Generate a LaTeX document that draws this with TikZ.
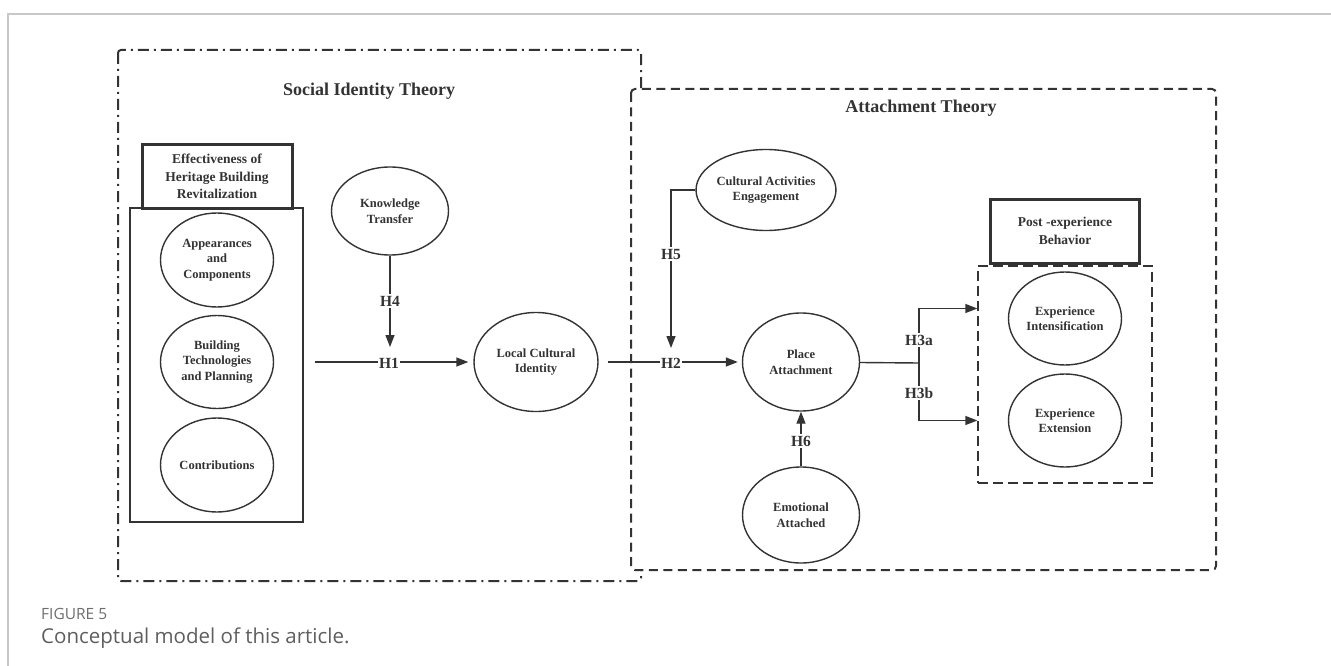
\documentclass[tikz,border=0pt]{standalone}
\usepackage{fontspec}
\setmainfont{Liberation Serif}
\newfontfamily\capfont{Open Sans}
\usepackage{tikz}
\usetikzlibrary{positioning,shapes.geometric,arrows.meta}
\definecolor{ink}{HTML}{333333}
\definecolor{capgray}{HTML}{5E5E5E}
\definecolor{framegray}{HTML}{C8C8C8}

\begin{document}
\begin{tikzpicture}[x=1pt, y=-1pt,
        every node/.style={text=ink, align=center},
        construct/.style={ellipse, draw=ink, line width=1.4pt, inner sep=0pt, font=\bfseries\fontsize{12.5}{15.5}\selectfont},
        header/.style={rectangle, draw=ink, line width=3pt, inner sep=2pt, font=\bfseries\fontsize{13.5}{17.5}\selectfont},
        theory/.style={font=\bfseries\fontsize{18}{20}\selectfont},
        hyp/.style={fill=white, inner sep=1.5pt, font=\bfseries\fontsize{15.5}{17}\selectfont},
        arr/.style={draw=ink, line width=1.4pt, -{Triangle[length=12pt,width=9pt]}}]
        \useasboundingbox (0,0) rectangle (1331,666);
        \draw[framegray, line width=1.5pt] (8,666) -- (8,14) -- (1331,14);
        % theory frames
        \draw[ink, line width=2pt, rounded corners=3pt, dash pattern=on 11pt off 5pt on 2pt off 5pt] (118,50) rectangle (641,581);
        \draw[ink, line width=2pt, rounded corners=4pt, dash pattern=on 9pt off 5.5pt, fill=white] (631,89) rectangle (1216,570);
        \node[theory] (sit) at (369,91) {Social Identity Theory};
        \node[theory] (att) at (921,108) {Attachment Theory};
        % heritage revitalization
        \node[header, minimum width=150pt, minimum height=63pt] (ehbr) at (217,176.5) {Effectiveness of\\Heritage Building\\Revitalization};
        \node[rectangle, draw=ink, line width=1.4pt, minimum width=173pt, minimum height=314pt] (dims) at (216.5,365) {};
        \node[construct, minimum width=113pt, minimum height=94pt] (ac) at (217,260) {Appearances\\and\\Components};
        \node[construct, minimum width=113pt, minimum height=93pt] (btp) at (217,362) {Building\\Technologies\\and Planning};
        \node[construct, minimum width=113pt, minimum height=94pt] (con) at (217,465) {Contributions};
        \node[construct, minimum width=117pt, minimum height=88pt] (kt) at (390,211) {Knowledge\\Transfer};
        \node[construct, minimum width=124pt, minimum height=99pt] (lci) at (536,362) {Local Cultural\\Identity};
        % attachment side
        \node[construct, minimum width=133pt, minimum height=81pt] (cae) at (766,190) {Cultural Activities\\Engagement};
        \node[construct, minimum width=117pt, minimum height=98pt] (pa) at (801,362) {Place\\Attachment};
        \node[construct, minimum width=117pt, minimum height=96pt] (ea) at (801,515) {Emotional\\Attached};
        \node[header, minimum width=149pt, minimum height=64pt] (peb) at (1065,231) {Post -experience\\Behavior};
        \node[rectangle, draw=ink, line width=1.4pt, dash pattern=on 10pt off 5pt, minimum width=174pt, minimum height=217pt] (out) at (1065,374.5) {};
        \node[construct, minimum width=113pt, minimum height=93pt] (ei) at (1065,318.5) {Experience\\Intensification};
        \node[construct, minimum width=113pt, minimum height=93pt] (ee) at (1065,420.5) {Experience\\Extension};
        % hypotheses
        \coordinate (h4end) at (390,347);
        \coordinate (h5end) at (671,348);
        \coordinate (fork) at (919,363);
        \draw[arr, shorten <=11pt, shorten >=5pt] (dims.east |- lci) -- (lci);
        \node[hyp] (h1) at (389,363) {H1};
        \draw[arr, shorten <=9pt, shorten >=4pt] (lci) -- (pa);
        \node[hyp] (h2) at (671,363) {H2};
        \draw[ink, line width=1.4pt] (pa) -- (fork);
        \draw[arr] (fork) |- ([yshift=10pt]out.west |- ei);
        \draw[arr] (fork) |- (out.west |- ee);
        \node[hyp] (h3a) at (919,340) {H3a};
        \node[hyp] (h3b) at (919,393) {H3b};
        \draw[arr] (kt) -- (h4end);
        \node[hyp] (h4) at (390,301) {H4};
        \draw[arr] (cae.west) -| (h5end);
        \node[hyp] (h5) at (671,254) {H5};
        \draw[arr] (ea) -- (pa);
        \node[hyp] (h6) at (801,441) {H6};
        % caption
        \node[anchor=west, inner sep=0pt, text=capgray!90, font=\capfont\fontsize{15.5}{17}\selectfont] (fig) at (41,614) {FIGURE 5};
        \node[anchor=west, inner sep=0pt, text=capgray, font=\capfont\fontsize{20.5}{22}\selectfont] (cap) at (41,638) {Conceptual model of this article.};
    \end{tikzpicture}
\end{document}
